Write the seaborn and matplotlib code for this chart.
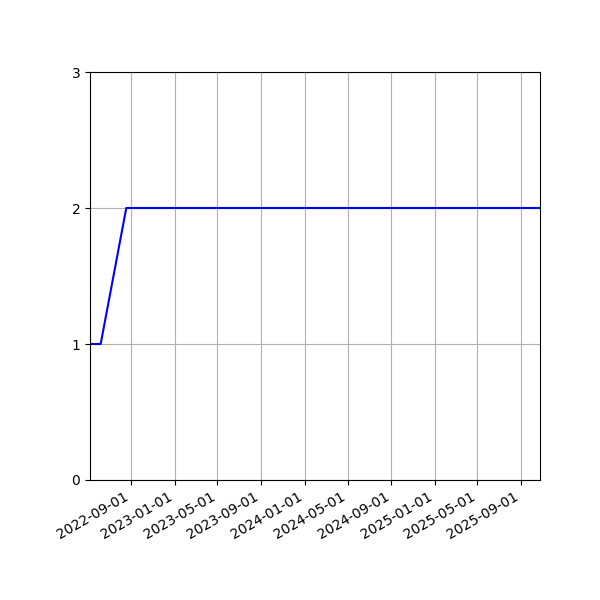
import pandas as pd
import matplotlib
matplotlib.use("Agg")
import matplotlib.pyplot as plt
import matplotlib.dates as mdates
import seaborn as sns

# ================= DATA =================
dates = ["2022-05-08", "2022-06-07", "2022-08-18", "2025-10-24"]
values = [1, 1, 2, 2]

df = pd.DataFrame({"date": pd.to_datetime(dates), "value": values})

# ================= PLOT =================
fig, ax = plt.subplots(figsize=(6, 6), dpi=100)

sns.lineplot(data=df, x="date", y="value", color="blue", ax=ax)

ax.set_xlim(df["date"].min(), df["date"].max())
ax.set_ylim(0, 3)
ax.set_yticks([0, 1, 2, 3])

ax.xaxis.set_major_locator(mdates.MonthLocator(bymonth=[1, 5, 9], bymonthday=1))
ax.xaxis.set_major_formatter(mdates.DateFormatter("%Y-%m-%d"))

ax.grid(True)
ax.set_xlabel("")
ax.set_ylabel("")

fig.autofmt_xdate()
fig.subplots_adjust(left=0.15, right=0.9, top=0.88, bottom=0.2)

plt.savefig("out.png")
